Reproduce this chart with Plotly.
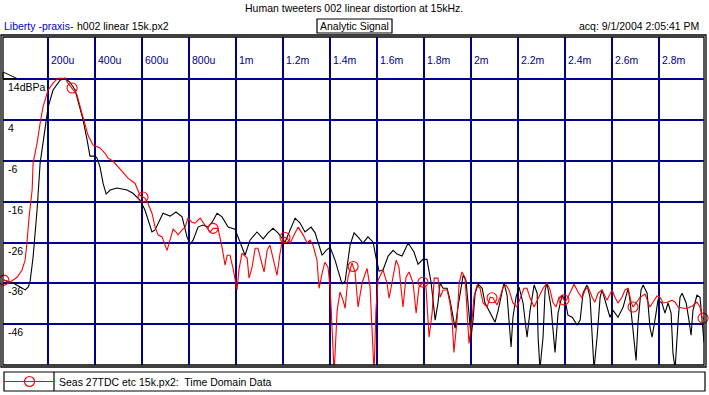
import numpy as np
import plotly.graph_objects as go

# ---------------- data (time in ms, level in dBPa) ----------------
time_black = [0.011, 0.050, 0.080, 0.101, 0.114, 0.122, 0.135, 0.152, 0.165, 0.186,
              0.199, 0.220, 0.250, 0.271, 0.292, 0.314, 0.335, 0.348, 0.365, 0.377,
              0.399, 0.407, 0.420, 0.433, 0.446, 0.463, 0.492, 0.535, 0.560, 0.590,
              0.611, 0.629, 0.641, 0.654, 0.671, 0.688, 0.718, 0.743, 0.769, 0.790,
              0.803, 0.816, 0.837, 0.858, 0.880, 0.897, 0.918, 0.939, 0.965, 0.994,
              1.016, 1.037, 1.058, 1.088, 1.114, 1.135, 1.156, 1.177, 1.207, 1.229,
              1.250, 1.271, 1.292, 1.318, 1.335, 1.365, 1.382, 1.399, 1.420, 1.450,
              1.463, 1.484, 1.501, 1.522, 1.539, 1.560, 1.582, 1.594, 1.607, 1.624,
              1.646, 1.667, 1.684, 1.705, 1.731, 1.756, 1.773, 1.794, 1.811, 1.829,
              1.837, 1.846, 1.858, 1.867, 1.880, 1.897, 1.909, 1.931, 1.943, 1.960,
              1.965, 1.977, 1.986, 1.999, 2.007, 2.016, 2.029, 2.046, 2.058, 2.080,
              2.101, 2.114, 2.131, 2.139, 2.152, 2.169, 2.177, 2.190, 2.203, 2.220,
              2.237, 2.250, 2.267, 2.280, 2.284, 2.292, 2.305, 2.314, 2.322, 2.339,
              2.356, 2.369, 2.386, 2.399, 2.411, 2.429, 2.450, 2.463, 2.475, 2.492,
              2.505, 2.514, 2.522, 2.535, 2.548, 2.556, 2.577, 2.590, 2.603, 2.624,
              2.646, 2.667, 2.675, 2.688, 2.701, 2.709, 2.722, 2.731, 2.748, 2.760,
              2.769, 2.786, 2.794, 2.811, 2.824, 2.837, 2.850, 2.858, 2.867, 2.880,
              2.888, 2.897, 2.914, 2.926, 2.935, 2.943, 2.960, 2.973, 2.982, 2.990]
db_black = [-35.2, -35.9, -36.9, -37.6, -36.9, -35.7, -29.6, -18.0, -6.5, 2.3,
            7.2, 11.4, 13.8, 14.3, 13.3, 11.4, 7.2, 4.0, -0.9, -4.8,
            -4.8, -5.3, -7.5, -11.5, -14.1, -13.1, -12.6, -13.1, -13.9, -15.6,
            -18.0, -21.0, -23.4, -22.9, -21.0, -18.8, -19.5, -18.5, -19.7, -24.6,
            -26.4, -25.4, -22.2, -21.7, -22.2, -21.0, -18.8, -19.7, -22.2, -22.7,
            -25.9, -29.1, -25.4, -23.4, -25.1, -23.6, -22.5, -23.6, -25.9, -22.9,
            -20.0, -21.2, -23.4, -22.2, -23.6, -29.1, -27.9, -27.1, -30.3, -36.2,
            -35.4, -26.6, -23.6, -24.9, -26.1, -24.6, -25.9, -29.6, -33.0, -32.7,
            -29.3, -27.9, -28.8, -29.3, -26.1, -28.3, -31.3, -30.1, -30.1, -35.9,
            -40.1, -45.0, -40.8, -35.9, -37.2, -37.2, -40.1, -47.0, -41.8, -35.9,
            -34.0, -35.2, -41.8, -49.2, -45.0, -38.4, -36.2, -37.2, -40.8, -43.3,
            -45.5, -42.6, -37.6, -35.9, -38.9, -51.6, -44.3, -39.4, -36.9, -40.8,
            -49.2, -42.6, -36.4, -38.4, -49.2, -57.0, -49.2, -37.6, -35.9, -41.8,
            -52.9, -43.3, -38.9, -40.1, -43.8, -44.3, -46.2, -45.0, -38.4, -36.4,
            -39.4, -49.2, -57.0, -49.2, -39.4, -37.6, -42.1, -44.3, -42.6, -44.3,
            -41.8, -37.2, -40.1, -46.7, -54.9, -45.8, -37.6, -36.4, -38.4, -46.7,
            -49.2, -43.3, -40.1, -40.8, -43.3, -40.8, -43.3, -53.1, -57.0, -45.0,
            -39.4, -38.4, -40.8, -45.0, -48.7, -42.6, -38.9, -39.4, -45.0, -50.4]

time_red = [0.011, 0.037, 0.067, 0.088, 0.101, 0.109, 0.118, 0.131, 0.135, 0.152,
            0.165, 0.177, 0.199, 0.220, 0.241, 0.271, 0.284, 0.301, 0.322, 0.343,
            0.356, 0.369, 0.390, 0.420, 0.441, 0.454, 0.475, 0.497, 0.518, 0.539,
            0.569, 0.590, 0.611, 0.624, 0.641, 0.654, 0.667, 0.684, 0.705, 0.718,
            0.731, 0.743, 0.752, 0.769, 0.782, 0.794, 0.811, 0.824, 0.846, 0.858,
            0.875, 0.888, 0.901, 0.922, 0.939, 0.952, 0.961, 0.973, 0.986, 0.994,
            1.003, 1.011, 1.024, 1.046, 1.054, 1.067, 1.080, 1.092, 1.105, 1.118,
            1.131, 1.143, 1.156, 1.173, 1.186, 1.199, 1.216, 1.229, 1.246, 1.263,
            1.284, 1.301, 1.314, 1.326, 1.343, 1.352, 1.365, 1.377, 1.390, 1.399,
            1.407, 1.416, 1.429, 1.441, 1.454, 1.463, 1.475, 1.492, 1.505, 1.518,
            1.535, 1.556, 1.569, 1.577, 1.586, 1.594, 1.603, 1.624, 1.641, 1.650,
            1.663, 1.680, 1.692, 1.709, 1.722, 1.735, 1.752, 1.765, 1.777, 1.794,
            1.807, 1.820, 1.833, 1.842, 1.858, 1.867, 1.880, 1.897, 1.909, 1.918,
            1.926, 1.939, 1.948, 1.960, 1.973, 1.982, 1.990, 2.003, 2.011, 2.024,
            2.037, 2.050, 2.067, 2.080, 2.092, 2.109, 2.122, 2.135, 2.148, 2.160,
            2.177, 2.194, 2.207, 2.224, 2.237, 2.250, 2.267, 2.284, 2.305, 2.322,
            2.335, 2.347, 2.360, 2.373, 2.390, 2.399, 2.411, 2.429, 2.437, 2.454,
            2.471, 2.484, 2.497, 2.514, 2.526, 2.539, 2.556, 2.577, 2.599, 2.611,
            2.624, 2.641, 2.654, 2.667, 2.680, 2.688, 2.705, 2.718, 2.739, 2.760,
            2.773, 2.790, 2.803, 2.816, 2.833, 2.854, 2.867, 2.880, 2.901, 2.918,
            2.939, 2.960, 2.973, 2.982, 2.995]
db_red = [-35.2, -35.7, -34.5, -32.7, -30.3, -26.1, -19.7, -13.1, -6.5, -1.6,
          3.3, 7.2, 11.4, 13.1, 14.3, 14.3, 13.1, 11.9, 10.2, 5.7,
          2.8, 0.3, -2.1, -2.8, -4.1, -5.3, -6.0, -7.5, -9.0, -10.2,
          -11.5, -14.4, -15.1, -16.4, -18.8, -22.2, -24.1, -24.6, -27.9, -25.4,
          -22.7, -23.4, -24.1, -22.9, -22.2, -20.0, -21.0, -21.2, -20.0, -21.0,
          -22.2, -23.4, -22.5, -22.5, -27.1, -31.5, -29.1, -29.1, -32.3, -35.2,
          -37.6, -32.7, -28.6, -29.8, -34.7, -32.0, -27.4, -27.4, -30.3, -33.2,
          -27.9, -26.6, -29.8, -34.0, -28.6, -24.6, -24.9, -26.1, -24.1, -22.2,
          -24.1, -26.1, -25.4, -26.6, -30.3, -37.2, -33.5, -30.8, -32.0, -36.9,
          -46.7, -58.0, -42.6, -38.1, -40.1, -42.1, -34.5, -31.0, -33.2, -41.8,
          -35.9, -32.3, -36.9, -49.2, -58.0, -42.6, -35.2, -32.7, -35.9, -39.6,
          -35.2, -30.3, -32.0, -41.8, -34.5, -33.2, -35.9, -43.3, -36.9, -35.7,
          -36.9, -49.2, -43.3, -34.7, -34.7, -39.4, -37.6, -37.6, -40.8, -45.0,
          -52.9, -45.0, -35.9, -33.2, -34.5, -41.8, -50.7, -45.0, -39.4, -36.4,
          -37.2, -40.8, -41.8, -39.4, -39.6, -41.3, -39.4, -36.9, -36.4, -37.6,
          -40.8, -41.8, -39.6, -37.2, -37.2, -39.6, -41.8, -39.6, -37.2, -35.9,
          -37.6, -40.6, -41.8, -39.4, -39.6, -40.6, -39.4, -37.2, -36.2, -38.1,
          -39.6, -37.6, -36.9, -39.4, -40.6, -38.4, -37.6, -40.1, -37.6, -39.4,
          -40.8, -39.4, -37.6, -37.2, -40.6, -41.8, -40.6, -39.4, -38.6, -41.8,
          -40.6, -39.1, -39.4, -40.8, -40.6, -40.1, -40.6, -41.8, -42.1, -42.1,
          -41.6, -40.6, -41.8, -44.3, -45.0]

marker_times = [0.011, 0.301, 0.603, 0.901, 1.207, 1.497, 1.794, 2.088, 2.394, 2.688, 2.986]

x_ticks = [0.2, 0.4, 0.6, 0.8, 1.0, 1.2, 1.4, 1.6, 1.8, 2.0, 2.2, 2.4, 2.6, 2.8]
x_tick_labels = ["200u", "400u", "600u", "800u", "1m", "1.2m", "1.4m", "1.6m",
                 "1.8m", "2m", "2.2m", "2.4m", "2.6m", "2.8m"]
y_ticks = [14, 4, -6, -16, -26, -36, -46]
y_tick_labels = ["14dBPa", "4", "-6", "-16", "-26", "-36", "-46"]

title_text = "Human tweeters 002 linear distortion at 15kHz."
brand_text = "Liberty -praxis-"
file_text = "h002 linear 15k.px2"
mode_text = "Analytic Signal"
acq_text = "acq: 9/1/2004 2:05:41 PM"
legend_text = "Seas 27TDC etc 15k.px2:  Time Domain Data"

# ---------------- layout geometry (pixels) ----------------
W, H = 709, 395
L, R, T, B = 3, 704, 37, 365          # plot-area edges in pixels
X_RANGE = [0.007, 2.990]
Y_RANGE = [-56.0, 24.4]
FONT = "Liberation Sans, Arial, sans-serif"
FS = 10.5
NAVY = "#000088"


def px(xp):
    return (xp - L) / (R - L)


def py(yp):
    return (B - yp) / (B - T)


fig = go.Figure()

fig.add_trace(go.Scatter(x=time_black, y=db_black, mode="lines",
                         line=dict(color="black", width=1.1), showlegend=False,
                         hoverinfo="skip"))
fig.add_trace(go.Scatter(x=time_red, y=db_red, mode="lines",
                         line=dict(color="#ff0000", width=1.1), showlegend=False,
                         hoverinfo="skip"))
marker_db = np.interp(marker_times, time_red, db_red)
fig.add_trace(go.Scatter(x=marker_times, y=marker_db, mode="markers",
                         marker=dict(symbol="circle-open", size=10, color="#ff0000",
                                     line=dict(width=1.1)),
                         showlegend=False, hoverinfo="skip", cliponaxis=False))

shapes = []
# frame: inner + outer rectangle
shapes.append(dict(type="rect", xref="paper", yref="paper", x0=0, x1=1, y0=0, y1=1,
                   line=dict(color="black", width=1.3)))
shapes.append(dict(type="rect", xref="paper", yref="paper",
                   x0=px(1), x1=px(706), y0=py(367), y1=py(35),
                   line=dict(color="black", width=1.3)))
# reference-level triangle
shapes.append(dict(type="path", xref="paper", yref="paper",
                   path=f"M {px(3)} {py(72)} L {px(17)} {py(78.5)} L {px(3)} {py(78.5)} Z",
                   line=dict(color="black", width=1)))
# Analytic Signal box
shapes.append(dict(type="rect", xref="paper", yref="paper",
                   x0=px(317), x1=px(392), y0=py(33), y1=py(19),
                   line=dict(color="black", width=1.2)))
# legend box
shapes.append(dict(type="rect", xref="paper", yref="paper",
                   x0=px(4), x1=px(705), y0=py(391), y1=py(372),
                   line=dict(color="black", width=1.2)))
shapes.append(dict(type="line", xref="paper", yref="paper",
                   x0=px(54), x1=px(54), y0=py(391), y1=py(372),
                   line=dict(color="black", width=1.2)))
shapes.append(dict(type="line", xref="paper", yref="paper",
                   x0=px(4), x1=px(53), y0=py(381.5), y1=py(381.5),
                   line=dict(color="#ff0000", width=1.2)))
shapes.append(dict(type="circle", xref="paper", yref="paper",
                   x0=px(24.5), x1=px(34.5), y0=py(386.5), y1=py(376.5),
                   line=dict(color="#ff0000", width=1.2)))

annotations = []
for xv, lab in zip(x_ticks, x_tick_labels):
    annotations.append(dict(x=xv, y=py(60), xref="x", yref="paper", text=lab,
                            showarrow=False, xanchor="left", yanchor="middle",
                            xshift=1, font=dict(family=FONT, size=FS, color=NAVY)))
for yv, lab in zip(y_ticks, y_tick_labels):
    annotations.append(dict(x=px(6), y=yv, xref="paper", yref="y", text=lab,
                            showarrow=False, xanchor="left", yanchor="middle",
                            yshift=-8, font=dict(family=FONT, size=FS, color="black")))

annotations += [
    dict(x=px(354), y=py(8), xref="paper", yref="paper", text=title_text,
         showarrow=False, xanchor="center", yanchor="middle",
         font=dict(family=FONT, size=FS, color="black")),
    dict(x=px(2), y=py(26), xref="paper", yref="paper", text=brand_text,
         showarrow=False, xanchor="left", yanchor="middle",
         font=dict(family=FONT, size=FS, color="#0000d0")),
    dict(x=px(75), y=py(26), xref="paper", yref="paper", text=file_text,
         showarrow=False, xanchor="left", yanchor="middle",
         font=dict(family=FONT, size=FS, color="black")),
    dict(x=px(354.5), y=py(26), xref="paper", yref="paper", text=mode_text,
         showarrow=False, xanchor="center", yanchor="middle",
         font=dict(family=FONT, size=FS, color="black")),
    dict(x=px(701), y=py(26), xref="paper", yref="paper", text=acq_text,
         showarrow=False, xanchor="right", yanchor="middle",
         font=dict(family=FONT, size=FS, color="black")),
    dict(x=px(57), y=py(381.5), xref="paper", yref="paper", text=legend_text,
         showarrow=False, xanchor="left", yanchor="middle",
         font=dict(family=FONT, size=FS, color="black")),
]

fig.update_layout(
    width=W, height=H,
    margin=dict(l=L, r=W - R, t=T, b=H - B, pad=0),
    paper_bgcolor="white", plot_bgcolor="white",
    showlegend=False,
    shapes=shapes, annotations=annotations,
    xaxis=dict(range=X_RANGE, tickmode="array", tickvals=x_ticks, showticklabels=False,
               showgrid=True, gridcolor=NAVY, gridwidth=1.6, zeroline=False,
               showline=False, ticks="", fixedrange=True),
    yaxis=dict(range=Y_RANGE, tickmode="array", tickvals=y_ticks, showticklabels=False,
               showgrid=True, gridcolor=NAVY, gridwidth=1.6, zeroline=False,
               showline=False, ticks="", fixedrange=True),
)

fig.write_html("out.html", config={"displayModeBar": False},
               post_script="document.body.style.margin='0';document.body.style.overflow='hidden';")
